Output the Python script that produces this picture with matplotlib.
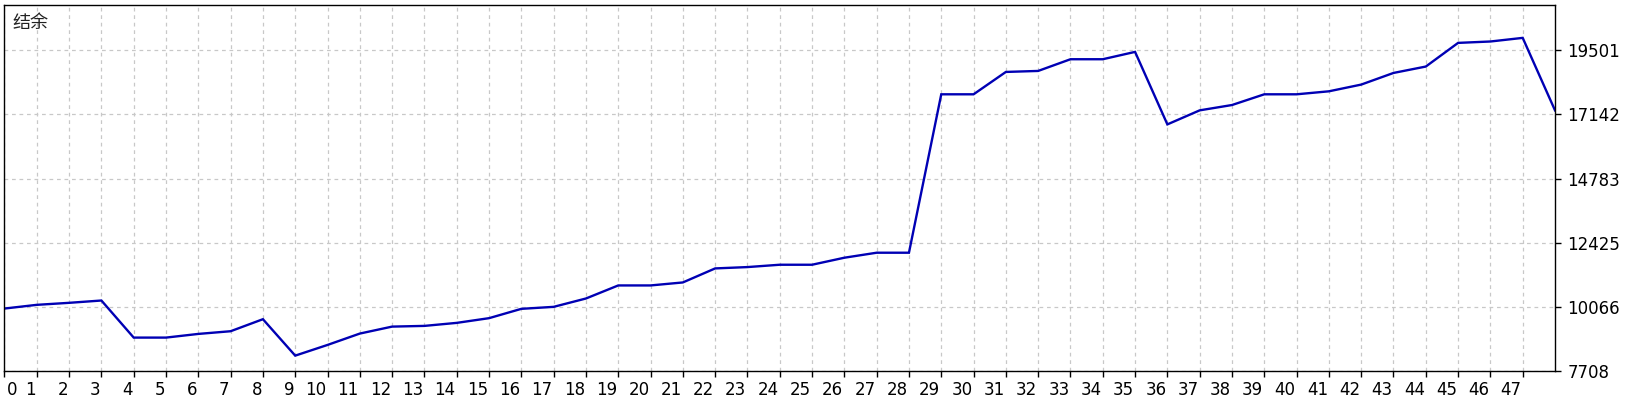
import matplotlib.pyplot as plt
import matplotlib.transforms as mtransforms

# balance values per trade
balance = [10004, 10140, 10214, 10299, 8936, 8936, 9071, 9170, 9612, 8273,
           8666, 9084, 9340, 9366, 9477, 9650, 9993, 10066, 10373, 10853,
           10853, 10963, 11479, 11528, 11614, 11614, 11872, 12056, 12056, 17879,
           17879, 18701, 18738, 19168, 19168, 19438, 16773, 17289, 17485, 17879,
           17879, 17989, 18236, 18664, 18899, 19769, 19820, 19953, 17289]
trades = list(range(len(balance)))
x_ticks = list(range(48))
y_ticks = [7708, 10066, 12425, 14783, 17142, 19501]
y_top = 21180
title = '结余'

fig = plt.figure(figsize=(16.4, 4.0), dpi=100)
ax = fig.add_axes([4.5 / 1640, 29 / 400, (1555 - 4.5) / 1640, (371 - 4.5) / 400])

ax.plot(trades, balance, color='#0000b4', lw=1.7, solid_joinstyle='miter')

ax.set_xlim(0, 48)
ax.set_ylim(y_ticks[0], y_top)

ax.set_xticks(x_ticks)
ax.set_xticklabels([str(t) for t in x_ticks])
ax.set_yticks(y_ticks)
ax.set_yticklabels([str(v) for v in y_ticks])
ax.yaxis.tick_right()

ax.tick_params(axis='x', length=4, width=1, pad=3, labelsize=12, colors='black')
ax.tick_params(axis='y', length=4, width=1, pad=5, labelsize=12, colors='black')

# MT-style x labels sit to the left of their tick
for i, lab in enumerate(ax.get_xticklabels()):
    if i == 0:
        lab.set_ha('left')
        lab.set_transform(lab.get_transform() + mtransforms.ScaledTranslation(2 / 100, 0, fig.dpi_scale_trans))
    else:
        lab.set_ha('right')
        lab.set_transform(lab.get_transform() + mtransforms.ScaledTranslation(-1 / 100, 0, fig.dpi_scale_trans))

ax.grid(True, color='#c8c8c8', linestyle=(0, (3, 3)), linewidth=0.9)
ax.set_axisbelow(True)
for sp in ax.spines.values():
    sp.set_color('black')
    sp.set_linewidth(1)

fig.text(12 / 1640, 1 - 23 / 400, title, family=['Noto Sans CJK SC', 'DejaVu Sans'],
         fontsize=13, color='#222222', va='center', ha='left', fontweight='light')

fig.savefig('out.png', dpi=100)
